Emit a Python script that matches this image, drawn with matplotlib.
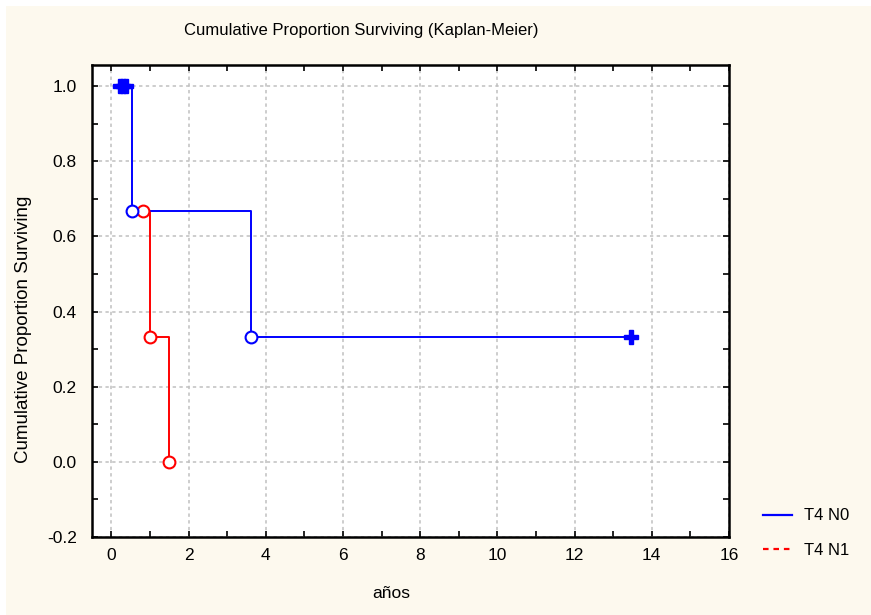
import matplotlib
matplotlib.use("Agg")
import matplotlib.pyplot as plt
from matplotlib.patches import Rectangle
from matplotlib.lines import Line2D
import numpy as np

plt.rcParams['font.family'] = ['Liberation Sans', 'DejaVu Sans']

# Data: group T4 N0 (blue)
n0_times = [0.22, 0.30, 0.38, 0.53, 3.63, 13.45]
n0_surv = [1.0, 1.0, 1.0, 0.667, 0.333, 0.333]
n0_censored = [True, True, True, False, False, True]

# Data: group T4 N1 (red)
n1_times = [0.82, 0.99, 1.5]
n1_surv = [0.667, 0.333, 0.0]
n1_censored = [False, False, False]

title = "Cumulative Proportion Surviving (Kaplan-Meier)"
xlabel = "años"
ylabel = "Cumulative Proportion Surviving"
legend_labels = ["T4 N0", "T4 N1"]
xticks = [0, 2, 4, 6, 8, 10, 12, 14, 16]
yticks = [-0.2, 0.0, 0.2, 0.4, 0.6, 0.8, 1.0]

W, H = 871, 615
fig = plt.figure(figsize=(W / 100, H / 100), dpi=100)
fig.patch.set_facecolor('white')
bg = Rectangle((6 / W, 0), 1 - 6 / W, 1 - 6 / H, transform=fig.transFigure,
               facecolor='#FDF9EE', edgecolor='none', zorder=-10)
fig.patches.append(bg)

ax = fig.add_axes([92 / W, 1 - 537 / H, (729 - 92) / W, (537 - 65) / H])
ax.set_facecolor('white')
ax.set_xlim(-0.5, 16)
ax.set_ylim(-0.2, 1.056)


def step_path(times, surv):
    xs, ys = [times[0]], [surv[0]]
    for i in range(1, len(times)):
        xs += [times[i], times[i]]
        ys += [surv[i - 1], surv[i]]
    return xs, ys


def draw_group(times, surv, cens, color):
    xs, ys = step_path(times, surv)
    ax.plot(xs, ys, color=color, lw=1.4, zorder=3)
    for t, s, c in zip(times, surv, cens):
        if c:
            ax.plot([t], [s], marker='P', ms=9.5, color=color, mec=color, zorder=5)
        else:
            ax.plot([t], [s], marker='o', ms=8.5, mfc='white', mec=color, mew=1.5, zorder=5)


draw_group(n1_times, n1_surv, n1_censored, '#FF0000')
draw_group(n0_times, n0_surv, n0_censored, '#0000FF')

ax.set_xticks(xticks)
ax.set_xticks(np.arange(0, 17, 1), minor=True)
ax.set_yticks(yticks)
ax.set_yticks(np.arange(-0.2, 1.05, 0.1), minor=True)
ax.set_xticklabels([str(v) for v in xticks], fontsize=12.5)
ax.set_yticklabels(["%.1f" % v for v in yticks], fontsize=12.5)
ax.tick_params(which='both', direction='in', top=True, right=True, length=4, width=1.2,
               colors='black')
ax.tick_params(axis='x', which='both', pad=8)
ax.tick_params(axis='y', which='both', pad=11)
ax.grid(True, which='major', color='#C0C0C0', ls=(0, (2.2, 2.2)), lw=1.1)
for sp in ax.spines.values():
    sp.set_linewidth(1.8)

fig.text(361 / W, 1 - 30 / H, title, ha='center', va='center', fontsize=12)
fig.text(391 / W, 1 - 593 / H, xlabel, ha='center', va='center', fontsize=12.5)
fig.text(24 / W, 1 - 329 / H, ylabel, ha='center', va='center', rotation=90, fontsize=13.5)

# Legend outside the axes
leg_handles = [Line2D([0], [0], color='#0000FF', lw=1.6),
               Line2D([0], [0], color='#FF0000', lw=1.6, ls=(0, (2.5, 2.2)))]
leg = fig.legend(leg_handles, legend_labels, loc='center left',
                 bbox_to_anchor=(763 / W, 1 - 533 / H), frameon=False, fontsize=12,
                 handlelength=1.75, labelspacing=1.15, handletextpad=0.7, borderpad=0,
                 borderaxespad=0)

fig.savefig('out.png', dpi=100, facecolor=fig.get_facecolor())
